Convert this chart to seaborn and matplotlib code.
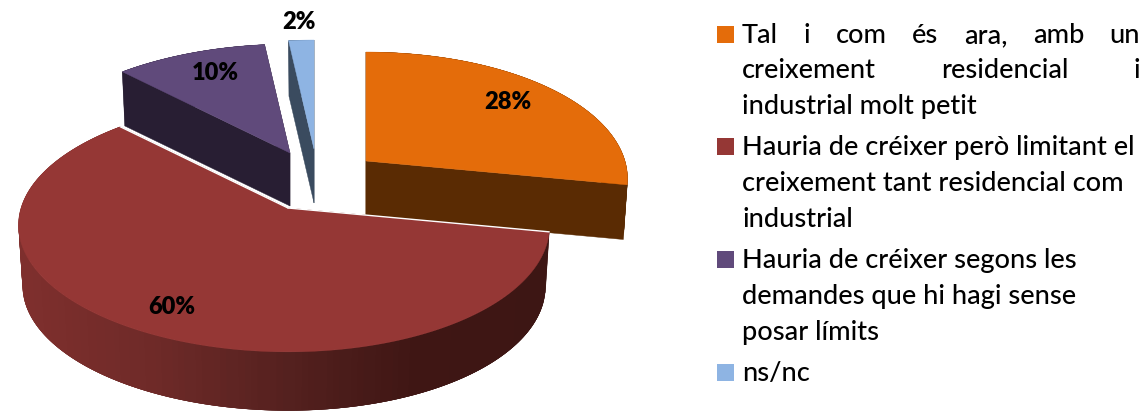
import numpy as np
import matplotlib
matplotlib.use('Agg')
import matplotlib.pyplot as plt
from matplotlib.patches import Rectangle
import seaborn as sns

# chart data (labels are rounded, slices look a bit off the round numbers)
shares = [28.0, 59.8, 10.45, 1.75]
legend_lines = [
    ['Tal i com és ara, amb un', 'creixement residencial i', 'industrial molt petit'],
    ['Hauria de créixer però limitant el', 'creixement tant residencial com', 'industrial'],
    ['Hauria de créixer segons les', 'demandes que hi hagi sense', 'posar límits'],
    ['ns/nc'],
]
justified_lines = ['Tal i com és ara, amb un', 'creixement residencial i']

# colours
top_colors = ['#E46C0A', '#953735', '#604A7B', '#8EB4E3']
cut_colors = ['#5A2B03', '#3D1614', '#281E33', '#3A4B5F']
red_rim = ['#7E2F2D', '#6E2A28', '#55211F', '#3F1614', '#3D1614']

# layout, in picture pixels
CENTER = (315, 179)
OFFSETS = [(51, -18), (-27, 29), (-25, -26), (-1, -30)]
DEPTHS = [55, 61, 53, 54]
RX, RY = 263, 124
PERSPECTIVE = 0.138
LEAN = 4
DEPTH_SCALE = 0.985
PCT_POS = [(508, 102), (172, 307), (215, 73), (299, 22)]
SWATCH_Y = [26, 138, 251, 364]
BASELINES = [[43, 78, 114], [155, 191, 227], [268, 304, 340], [381]]
LEGEND_SIZE = 19.55

sns.set_theme(style='white')
plt.rcParams['font.family'] = ['Lato', 'DejaVu Sans']


def project(theta, apex, depth=0, scale=1.0):
    u, v = np.sin(theta), np.cos(theta)
    w = 1 + PERSPECTIVE * v
    x = u * (RX - LEAN * u) / w * scale
    y = -v * RY / w * scale
    return apex[0] + x, apex[1] + y + depth


def draw_slice(ax, theta1, theta2, apex, depth, top, cut, rim_colors):
    thetas = np.linspace(theta1, theta2, 181)
    # cut faces first, then the outer rim, then the top surface
    for th in (theta1, theta2):
        x1, y1 = project(th, apex)
        x2, y2 = project(th, apex, depth, DEPTH_SCALE)
        ax.fill([apex[0], x1, x2, apex[0]], [apex[1], y1, y2, apex[1] + depth],
                color=cut, lw=0.3)
    xs, ys = project(thetas, apex)
    xb, yb = project(thetas, apex, depth, DEPTH_SCALE)
    pal = sns.blend_palette(rim_colors, 64)
    # quads overlap their neighbours so no seams show in the gradient
    for i in range(len(thetas) - 1):
        j = min(i + 4, len(thetas) - 1)
        t = (xs[i] + RX - apex[0]) / (2 * RX)
        c = pal[int(np.clip(t, 0, 0.999) * 64)]
        ax.fill([xs[i], xs[j], xb[j], xb[i]], [ys[i], ys[j], yb[j], yb[i]], color=c, lw=0)
    ax.fill(np.r_[apex[0], xs], np.r_[apex[1], ys], color=top, lw=0.3)


def draw_justified(ax, fig, text, x0, x1, y, size):
    words = text.split(' ')
    rend = fig.canvas.get_renderer()
    artists = [ax.text(x0, y, w, fontsize=size, fontweight=500, color='black', va='baseline', ha='left')
               for w in words]
    widths = [a.get_window_extent(rend).width for a in artists]
    gap = (x1 - x0 - sum(widths)) / (len(words) - 1)
    x = x0
    for a, wd in zip(artists, widths):
        a.set_x(x)
        x += wd + gap


fig, ax = plt.subplots(figsize=(11.48, 4.12), dpi=100)
fig.subplots_adjust(left=0, right=1, bottom=0, top=1)
ax.set_xlim(0, 1148)
ax.set_ylim(412, 0)
ax.axis('off')

edges = np.radians(np.r_[0, np.cumsum(shares)] * 3.6)
order = [2, 3, 0, 1]  # back slices first, the big red one on top
for i in order:
    apex = (CENTER[0] + OFFSETS[i][0], CENTER[1] + OFFSETS[i][1])
    rim = red_rim if i == 1 else [cut_colors[i], cut_colors[i]]
    draw_slice(ax, edges[i], edges[i + 1], apex, DEPTHS[i], top_colors[i], cut_colors[i], rim)
    if i == 1:
        for th in (edges[i], edges[i + 1]):
            x1, y1 = project(th, apex)
            ax.plot([apex[0], x1], [apex[1], y1], color='white', lw=1.0, solid_capstyle='round')

for share, pos in zip(shares, PCT_POS):
    ax.text(pos[0], pos[1], f'{share:.0f}%', fontsize=17, fontweight=800, color='black',
            ha='center', va='center')

# legend
for i, lines in enumerate(legend_lines):
    ax.add_patch(Rectangle((717, SWATCH_Y[i]), 17, 17, color=top_colors[i], lw=0))
    for line, base in zip(lines, BASELINES[i]):
        if line in justified_lines:
            draw_justified(ax, fig, line, 742, 1140, base, LEGEND_SIZE)
        else:
            ax.text(742, base, line, fontsize=LEGEND_SIZE, fontweight=500, color='black',
                    va='baseline', ha='left')

sns.despine(ax=ax, left=True, bottom=True)
fig.savefig('out.png', dpi=100, facecolor='white')
